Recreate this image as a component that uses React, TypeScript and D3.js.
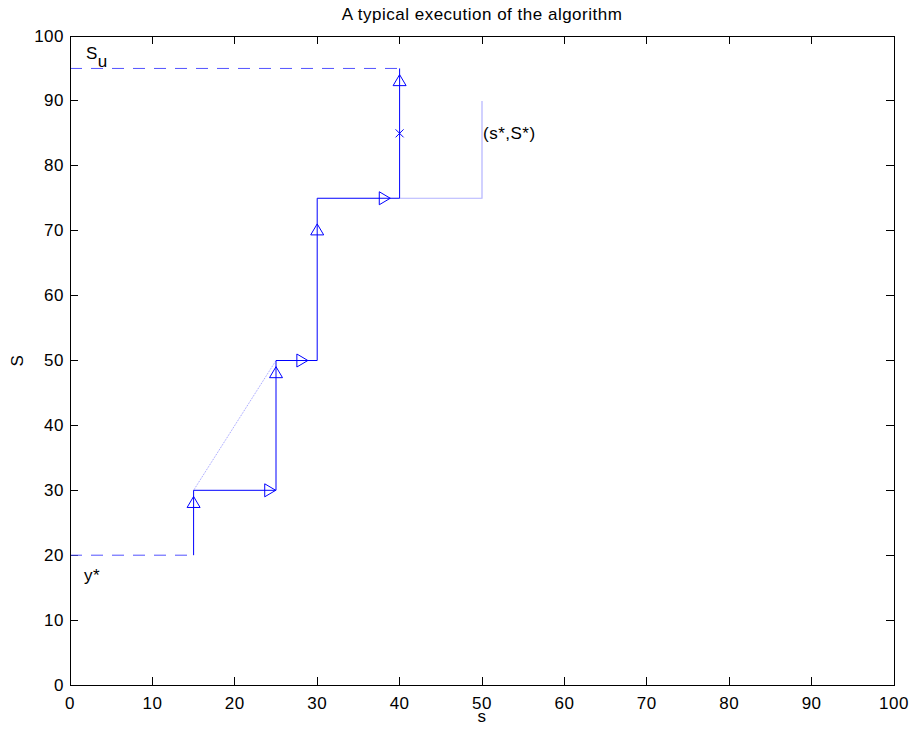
import React from "react";
import * as d3 from "d3";

// ---- data ----
const stepS = [15, 15, 25, 25, 30, 30, 40, 40];
const stepBigS = [20, 30, 30, 50, 50, 75, 75, 95];
const lightS = [40, 50, 50];
const lightBigS = [75, 75, 90];
const dottedS = [15, 25];
const dottedBigS = [30, 50];
const dashLowS = [0, 15];
const dashLowBigS = [20, 20];
const dashHighS = [0, 40];
const dashHighBigS = [95, 95];
const upMarkS = [15, 25, 30, 40];
const upMarkBigS = [28.2, 48.2, 70.2, 93.2];
const rightMarkS = [24.3, 28.2, 38.2];
const rightMarkBigS = [30, 50, 75];
const crossMarkS = [40];
const crossMarkBigS = [85];
const tickValues = [0, 10, 20, 30, 40, 50, 60, 70, 80, 90, 100];

const W = 910;
const H = 732;
const left = 70;
const right = 894;
const top = 36;
const bottom = 685;
const FONT = "'Liberation Sans', Arial, Helvetica, sans-serif";
const FS = 17;
const LS = 0.5;

export default function App() {
  const x = d3.scaleLinear().domain([0, 100]).range([left, right]);
  const y = d3.scaleLinear().domain([0, 100]).range([bottom, top]);
  const line = (xs: number[], ys: number[]) =>
    d3
      .line<number>()
      .x((_, i) => x(xs[i]))
      .y((_, i) => y(ys[i]))(xs) as string;

  const tickLen = 8;
  const blue = "#0000ff";

  return (
    <svg
      width={W}
      height={H}
      style={{ position: "absolute", left: 0, top: 0, background: "#fff" }}
      fontFamily={FONT}
      letterSpacing={LS}
    >
      <rect x={0} y={0} width={W} height={H} fill="#fff" />
      {/* ticks */}
      <g stroke="#000" strokeWidth={1} shapeRendering="crispEdges">
        {tickValues.map((t) => (
          <g key={"t" + t}>
            <line x1={x(t)} x2={x(t)} y1={bottom} y2={bottom - tickLen} />
            <line x1={x(t)} x2={x(t)} y1={top} y2={top + tickLen} />
            <line x1={left} x2={left + tickLen} y1={y(t)} y2={y(t)} />
            <line x1={right} x2={right - tickLen} y1={y(t)} y2={y(t)} />
          </g>
        ))}
      </g>
      {/* tick labels */}
      <g fontSize={FS} fill="#000">
        {tickValues.map((t) => (
          <text key={"xl" + t} x={x(t)} y={bottom + 24} textAnchor="middle">
            {t}
          </text>
        ))}
        {tickValues.map((t) => (
          <text
            key={"yl" + t}
            x={left - 6}
            y={y(t)}
            textAnchor="end"
            dominantBaseline="central"
          >
            {t}
          </text>
        ))}
      </g>
      {/* dashed lines */}
      <path
        d={line(dashLowS, dashLowBigS)}
        fill="none"
        stroke="#5252ff"
        strokeWidth={1}
        strokeDasharray="12,9"
      />
      <path
        d={line(dashHighS, dashHighBigS)}
        fill="none"
        stroke="#5252ff"
        strokeWidth={1}
        strokeDasharray="12,9"
      />
      {/* dotted diagonal */}
      <path
        d={line(dottedS, dottedBigS)}
        fill="none"
        stroke="#9a9aff"
        strokeWidth={1}
        strokeDasharray="1,1"
      />
      {/* light path */}
      <path d={line(lightS, lightBigS)} fill="none" stroke="#b3b3ff" strokeWidth={1.2} />
      {/* main step path */}
      <path d={line(stepS, stepBigS)} fill="none" stroke={blue} strokeWidth={1} />
      {/* up triangles */}
      {upMarkS.map((s, i) => (
        <path
          key={"u" + i}
          transform={`translate(${x(s)},${y(upMarkBigS[i])})`}
          d="M0,-5.5L6.5,5.5L-6.5,5.5Z"
          fill="none"
          stroke={blue}
          strokeWidth={1}
        />
      ))}
      {/* right triangles */}
      {rightMarkS.map((s, i) => (
        <path
          key={"r" + i}
          transform={`translate(${x(s)},${y(rightMarkBigS[i])})`}
          d="M5.5,0L-5.5,6.5L-5.5,-6.5Z"
          fill="none"
          stroke={blue}
          strokeWidth={1}
        />
      ))}
      {/* x marker */}
      {crossMarkS.map((s, i) => (
        <path
          key={"x" + i}
          transform={`translate(${x(s)},${y(crossMarkBigS[i])})`}
          d="M-4,-4L4,4M-4,4L4,-4"
          fill="none"
          stroke={blue}
          strokeWidth={1}
        />
      ))}
      {/* box */}
      <rect
        x={left}
        y={top}
        width={right - left}
        height={bottom - top}
        fill="none"
        stroke="#000"
        strokeWidth={1}
        shapeRendering="crispEdges"
      />
      {/* annotations */}
      <text x={86} y={59} fontSize={FS} fill="#000">
        S
        <tspan fontSize={FS} dy={8}>u</tspan>
      </text>
      <text x={84} y={581} fontSize={FS} fill="#000">
        y*
      </text>
      <text x={x(50) + 1} y={y(85)} fontSize={FS} fill="#000" dominantBaseline="central">
        (s*,S*)
      </text>
      {/* title & labels */}
      <text x={(left + right) / 2} y={20} fontSize={FS} textAnchor="middle" fill="#000">
        A typical execution of the algorithm
      </text>
      <text x={(left + right) / 2} y={722} fontSize={FS} textAnchor="middle" fill="#000">
        s
      </text>
      <text
        transform={`translate(23,${(top + bottom) / 2}) rotate(-90)`}
        fontSize={FS}
        textAnchor="middle"
        fill="#000"
      >
        S
      </text>
    </svg>
  );
}
